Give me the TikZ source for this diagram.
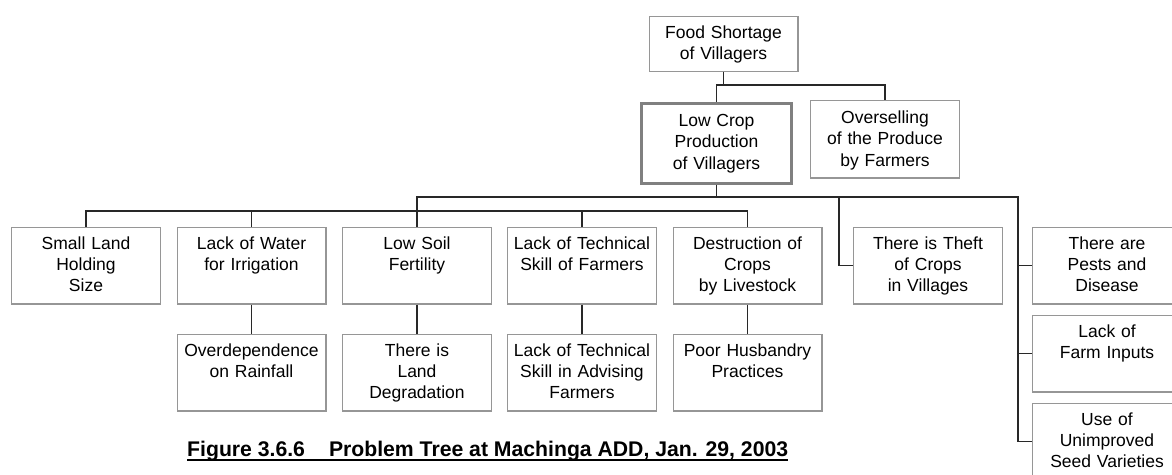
\documentclass[tikz,border=0pt]{standalone}
\usepackage{fontspec}
\setmainfont{Liberation Sans}
\definecolor{boxgray}{RGB}{150,150,150}
\definecolor{keygray}{RGB}{128,128,128}
\definecolor{linkdark}{RGB}{40,40,40}
\begin{document}
\begin{tikzpicture}[x=1pt,y=-1pt,
  box/.style={draw=boxgray, line width=1.2pt, rectangle, anchor=north,
    inner xsep=2pt, inner ysep=7pt, text width=144.8pt, align=center,
    text height=15pt, text depth=47.8pt,
    font=\fontsize{17.5}{21.3}\selectfont},
  keybox/.style={box, draw=keygray, line width=3pt, text width=146pt,
    text height=16.5pt, text depth=49.5pt},
  conn/.style={draw=linkdark, line width=1.3pt},
  captionstyle/.style={font=\fontsize{21.2}{25}\selectfont\bfseries,
    anchor=base west, inner sep=0pt}]
\useasboundingbox (0,0) rectangle (1172,474);
\clip (0,0) rectangle (1172,474);

% top levels
\node[box, text depth=25.9pt] (food) at (723.5,15.6) {Food Shortage\\of Villagers};
\node[keybox] (lowcrop) at (716.5,101.5) {Low Crop\\Production\\of Villagers};
\node[box, text height=16.4pt, text depth=47.4pt] (oversell) at (885,99.6)
  {Overselling\\of the Produce\\by Farmers};

% causes, first row
\node[box] (small)  at (86,226.6)    {Small Land\\Holding\\Size};
\node[box] (water)  at (251.5,226.6) {Lack of Water\\for Irrigation};
\node[box] (soil)   at (417,226.6)   {Low Soil\\Fertility};
\node[box] (tech)   at (582,226.6)   {Lack of Technical\\Skill of Farmers};
\node[box] (destr)  at (747.5,226.6) {Destruction of\\Crops\\by Livestock};
\node[box] (theft)  at (928,226.6)   {There is Theft\\of Crops\\in Villages};
\node[box] (pests)  at (1107,226.6)  {There are\\Pests and\\Disease};
\node[box] (farm)   at (1107,314.6)  {Lack of\\Farm Inputs};
\node[box] (seed)   at (1107,402.6)  {Use of\\Unimproved\\Seed Varieties};

% causes, second row
\node[box] (overdep) at (251.5,333.6) {Overdependence\\on Rainfall};
\node[box] (landdeg) at (417,333.6)   {There is\\Land\\Degradation};
\node[box] (advise)  at (582,333.6)   {Lack of Technical\\Skill in Advising\\Farmers};
\node[box] (husb)    at (747.5,333.6) {Poor Husbandry\\Practices};

% bus levels
\coordinate (topbus) at (0,85);
\coordinate (ub) at (0,197);
\coordinate (lb) at (0,211);
\coordinate (rb) at (1018,197);
\coordinate (tb) at (839,197);

% connectors
\draw[conn] (food.south) -- (food.south |- topbus);
\draw[conn] (lowcrop.north) -- (lowcrop.north |- topbus) -- (oversell.north |- topbus) -- (oversell.north);
\draw[conn] (lowcrop.south) -- (lowcrop.south |- ub);
\draw[conn] (soil.north) |- (rb) |- (seed.west);
\draw[conn] (rb |- pests.west) -- (pests.west);
\draw[conn] (rb |- farm.west) -- (farm.west);
\draw[conn] (tb) |- (theft.west);
\draw[conn] (small.north) -- (small.north |- lb) -- (destr.north |- lb) -- (destr.north);
\draw[conn] (water.north) -- (water.north |- lb);
\draw[conn] (tech.north) -- (tech.north |- lb);
\draw[conn] (water.south) -- (overdep.north);
\draw[conn] (soil.south) -- (landdeg.north);
\draw[conn] (tech.south) -- (advise.north);
\draw[conn] (destr.south) -- (husb.north);

% caption
\node[captionstyle] (cap) at (187,456)
  {Figure 3.6.6\hspace{24pt}Problem Tree at Machinga ADD, Jan. 29, 2003};
\draw[line width=2pt] ([yshift=-3.5pt]cap.base west) -- ([yshift=-3.5pt]cap.base east);
\end{tikzpicture}
\end{document}
